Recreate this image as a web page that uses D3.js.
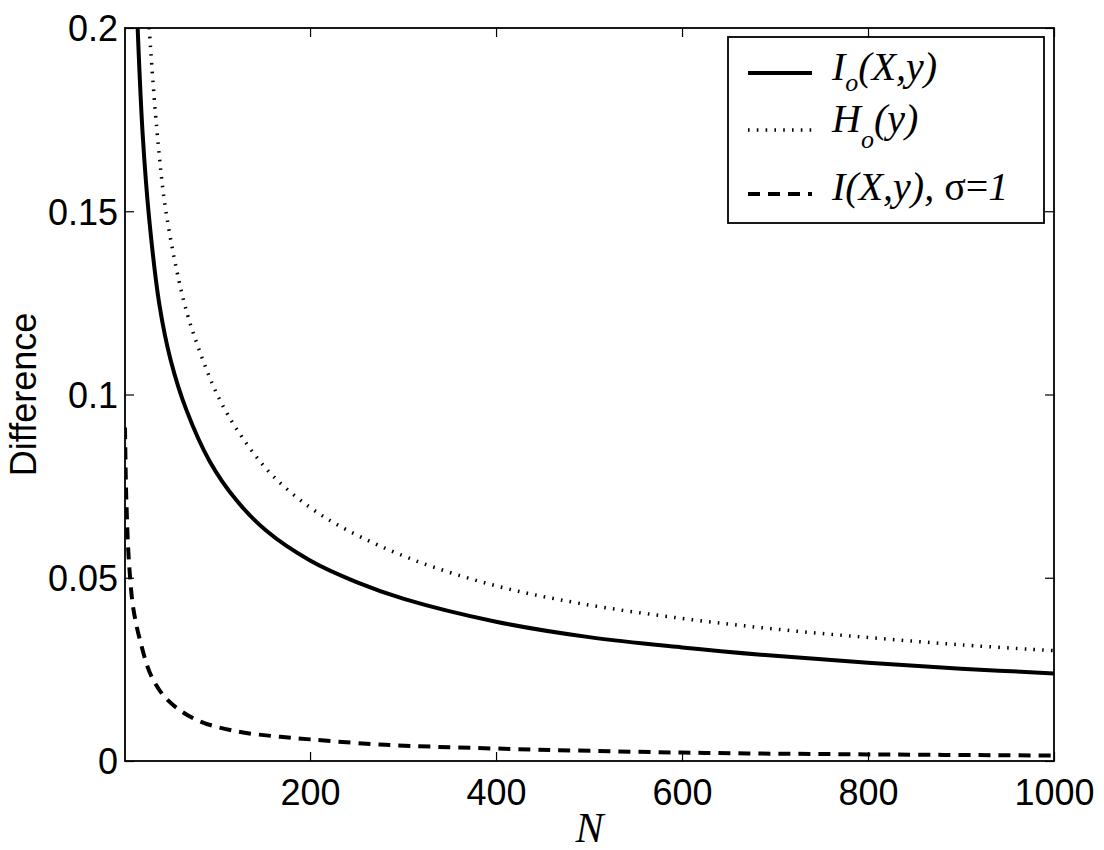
<!DOCTYPE html>
<html>
<head>
<meta charset="utf-8">
<script src="https://cdn.jsdelivr.net/npm/d3@7"></script>
<style>
  body { margin: 0; background: #fff; }
  svg { display: block; }
</style>
</head>
<body>
<div id="chart"></div>
<script>
// values: N and difference
const ioPoints = [
  [14.6, 0.2], [20, 0.171], [27, 0.148], [38, 0.1245], [50, 0.1095], [67, 0.0958],
  [92, 0.0818], [120, 0.0714], [153, 0.0628], [200, 0.0547], [250, 0.0488],
  [300, 0.0443], [400, 0.038], [500, 0.0338], [600, 0.031], [700, 0.0287],
  [800, 0.0268], [900, 0.0252], [1000, 0.0239]
];
const hoPoints = [
  [27, 0.2], [35, 0.173], [45, 0.15], [64, 0.1257], [80, 0.1127], [103, 0.0985],
  [130, 0.0872], [160, 0.0778], [200, 0.0692], [240, 0.063], [310, 0.055],
  [400, 0.0478], [490, 0.043], [600, 0.0389], [700, 0.036], [800, 0.0337],
  [900, 0.0317], [1000, 0.0301]
];
const iPoints = [
  [1, 0.091], [2, 0.075], [2.8, 0.0685], [4, 0.06], [6.4, 0.0503], [10, 0.0415],
  [18, 0.0321], [30, 0.0228], [47, 0.0166], [78, 0.0112], [121, 0.0081],
  [168, 0.0066], [200, 0.0059], [275, 0.0045], [400, 0.0034], [600, 0.0023],
  [800, 0.0018], [1000, 0.0015]
];
const xTicks = [200, 400, 600, 800, 1000];
const yTicks = [0, 0.05, 0.1, 0.15, 0.2];
const yTickLabels = ["0", "0.05", "0.1", "0.15", "0.2"];

const width = 1104, height = 850;
const plot = { left: 125, right: 1054, top: 28, bottom: 761 };
const sans = "'Liberation Sans', Arial, sans-serif";
const serif = "'Liberation Serif', 'Times New Roman', serif";

const svg = d3.select("#chart").append("svg")
  .attr("width", width)
  .attr("height", height);

const x = d3.scaleLinear().domain([1, 1000]).range([plot.left, plot.right]);
const y = d3.scaleLinear().domain([0, 0.2]).range([plot.bottom, plot.top]);

svg.append("clipPath").attr("id", "plotclip")
  .append("rect")
  .attr("x", plot.left).attr("y", plot.top)
  .attr("width", plot.right - plot.left)
  .attr("height", plot.bottom - plot.top);

// axes, ticks pointing inwards on all four sides
const tickLen = 9;
const bottomAxis = svg.append("g")
  .attr("transform", `translate(0,${plot.bottom})`)
  .call(d3.axisBottom(x).tickValues(xTicks).tickSizeInner(-tickLen).tickSizeOuter(0).tickPadding(18).tickFormat(d3.format("d")));
const topAxis = svg.append("g")
  .attr("transform", `translate(0,${plot.top})`)
  .call(d3.axisTop(x).tickValues(xTicks).tickSizeInner(-tickLen).tickSizeOuter(0).tickFormat(""));
const leftAxis = svg.append("g")
  .attr("transform", `translate(${plot.left},0)`)
  .call(d3.axisLeft(y).tickValues(yTicks).tickSizeInner(-tickLen).tickSizeOuter(0).tickPadding(7)
    .tickFormat((d, i) => yTickLabels[i]));
const rightAxis = svg.append("g")
  .attr("transform", `translate(${plot.right},0)`)
  .call(d3.axisRight(y).tickValues(yTicks).tickSizeInner(-tickLen).tickSizeOuter(0).tickFormat(""));

[bottomAxis, topAxis, leftAxis, rightAxis].forEach(g => {
  g.select(".domain").remove();
  g.selectAll(".tick line").attr("stroke", "#000").attr("stroke-width", 1.2);
  g.selectAll(".tick text")
    .attr("fill", "#000")
    .style("font-family", sans)
    .style("font-size", "36px");
});
bottomAxis.selectAll(".tick text").attr("dy", "0.71em");
leftAxis.selectAll(".tick text").attr("dy", "0.36em");

svg.append("rect")
  .attr("x", plot.left).attr("y", plot.top)
  .attr("width", plot.right - plot.left)
  .attr("height", plot.bottom - plot.top)
  .attr("fill", "none")
  .attr("stroke", "#000")
  .attr("stroke-width", 1.8);

// axis labels
svg.append("text")
  .attr("x", (plot.left + plot.right) / 2)
  .attr("y", 842)
  .attr("text-anchor", "middle")
  .style("font-family", serif)
  .style("font-style", "italic")
  .style("font-size", "42px")
  .text("N");

svg.append("text")
  .attr("transform", `translate(36,${(plot.top + plot.bottom) / 2}) rotate(-90)`)
  .attr("text-anchor", "middle")
  .style("font-family", sans)
  .style("font-size", "36px")
  .text("Difference");

// curves
const line = d3.line()
  .x(d => x(d[0]))
  .y(d => y(d[1]))
  .curve(d3.curveCatmullRom.alpha(0.5));

const series = [
  { name: "io", data: ioPoints, width: 4, dash: null },
  { name: "ho", data: hoPoints, width: 3.5, dash: "1.6 7.2" },
  { name: "i", data: iPoints, width: 4, dash: "12 8" }
];

const curves = svg.append("g").attr("clip-path", "url(#plotclip)");
curves.selectAll("path")
  .data(series)
  .enter().append("path")
  .attr("d", d => line(d.data))
  .attr("fill", "none")
  .attr("stroke", "#000")
  .attr("stroke-width", d => d.width)
  .attr("stroke-dasharray", d => d.dash);

// legend
const legend = svg.append("g");
legend.append("rect")
  .attr("x", 728).attr("y", 37)
  .attr("width", 316).attr("height", 186)
  .attr("fill", "#fff")
  .attr("stroke", "#000")
  .attr("stroke-width", 1.8);

const legendRows = [
  { s: series[0], ly: 73, ty: 80, sub: 11, main: "I", rest: "(X,y)" },
  { s: series[1], ly: 130, ty: 132, sub: 16, main: "H", rest: "(y)" },
  { s: series[2], ly: 194, ty: 200 }
];

legendRows.forEach(r => {
  legend.append("line")
    .attr("x1", 748).attr("x2", 812)
    .attr("y1", r.ly).attr("y2", r.ly)
    .attr("stroke", "#000")
    .attr("stroke-width", r.s.width)
    .attr("stroke-dasharray", r.s.dash);

  const t = legend.append("text")
    .attr("x", 832).attr("y", r.ty)
    .style("font-family", serif)
    .style("font-size", "40px");
  if (r.main) {
    t.append("tspan").style("font-style", "italic").text(r.main);
    t.append("tspan").style("font-style", "italic").style("font-size", "26px")
      .attr("dy", r.sub).text("o");
    t.append("tspan").style("font-style", "italic").attr("dy", -r.sub).text(r.rest);
  } else {
    t.append("tspan").style("font-style", "italic").text("I(X,y), ");
    t.append("tspan").text("σ=");
    t.append("tspan").style("font-style", "italic").text("1");
  }
});
</script>
</body>
</html>
